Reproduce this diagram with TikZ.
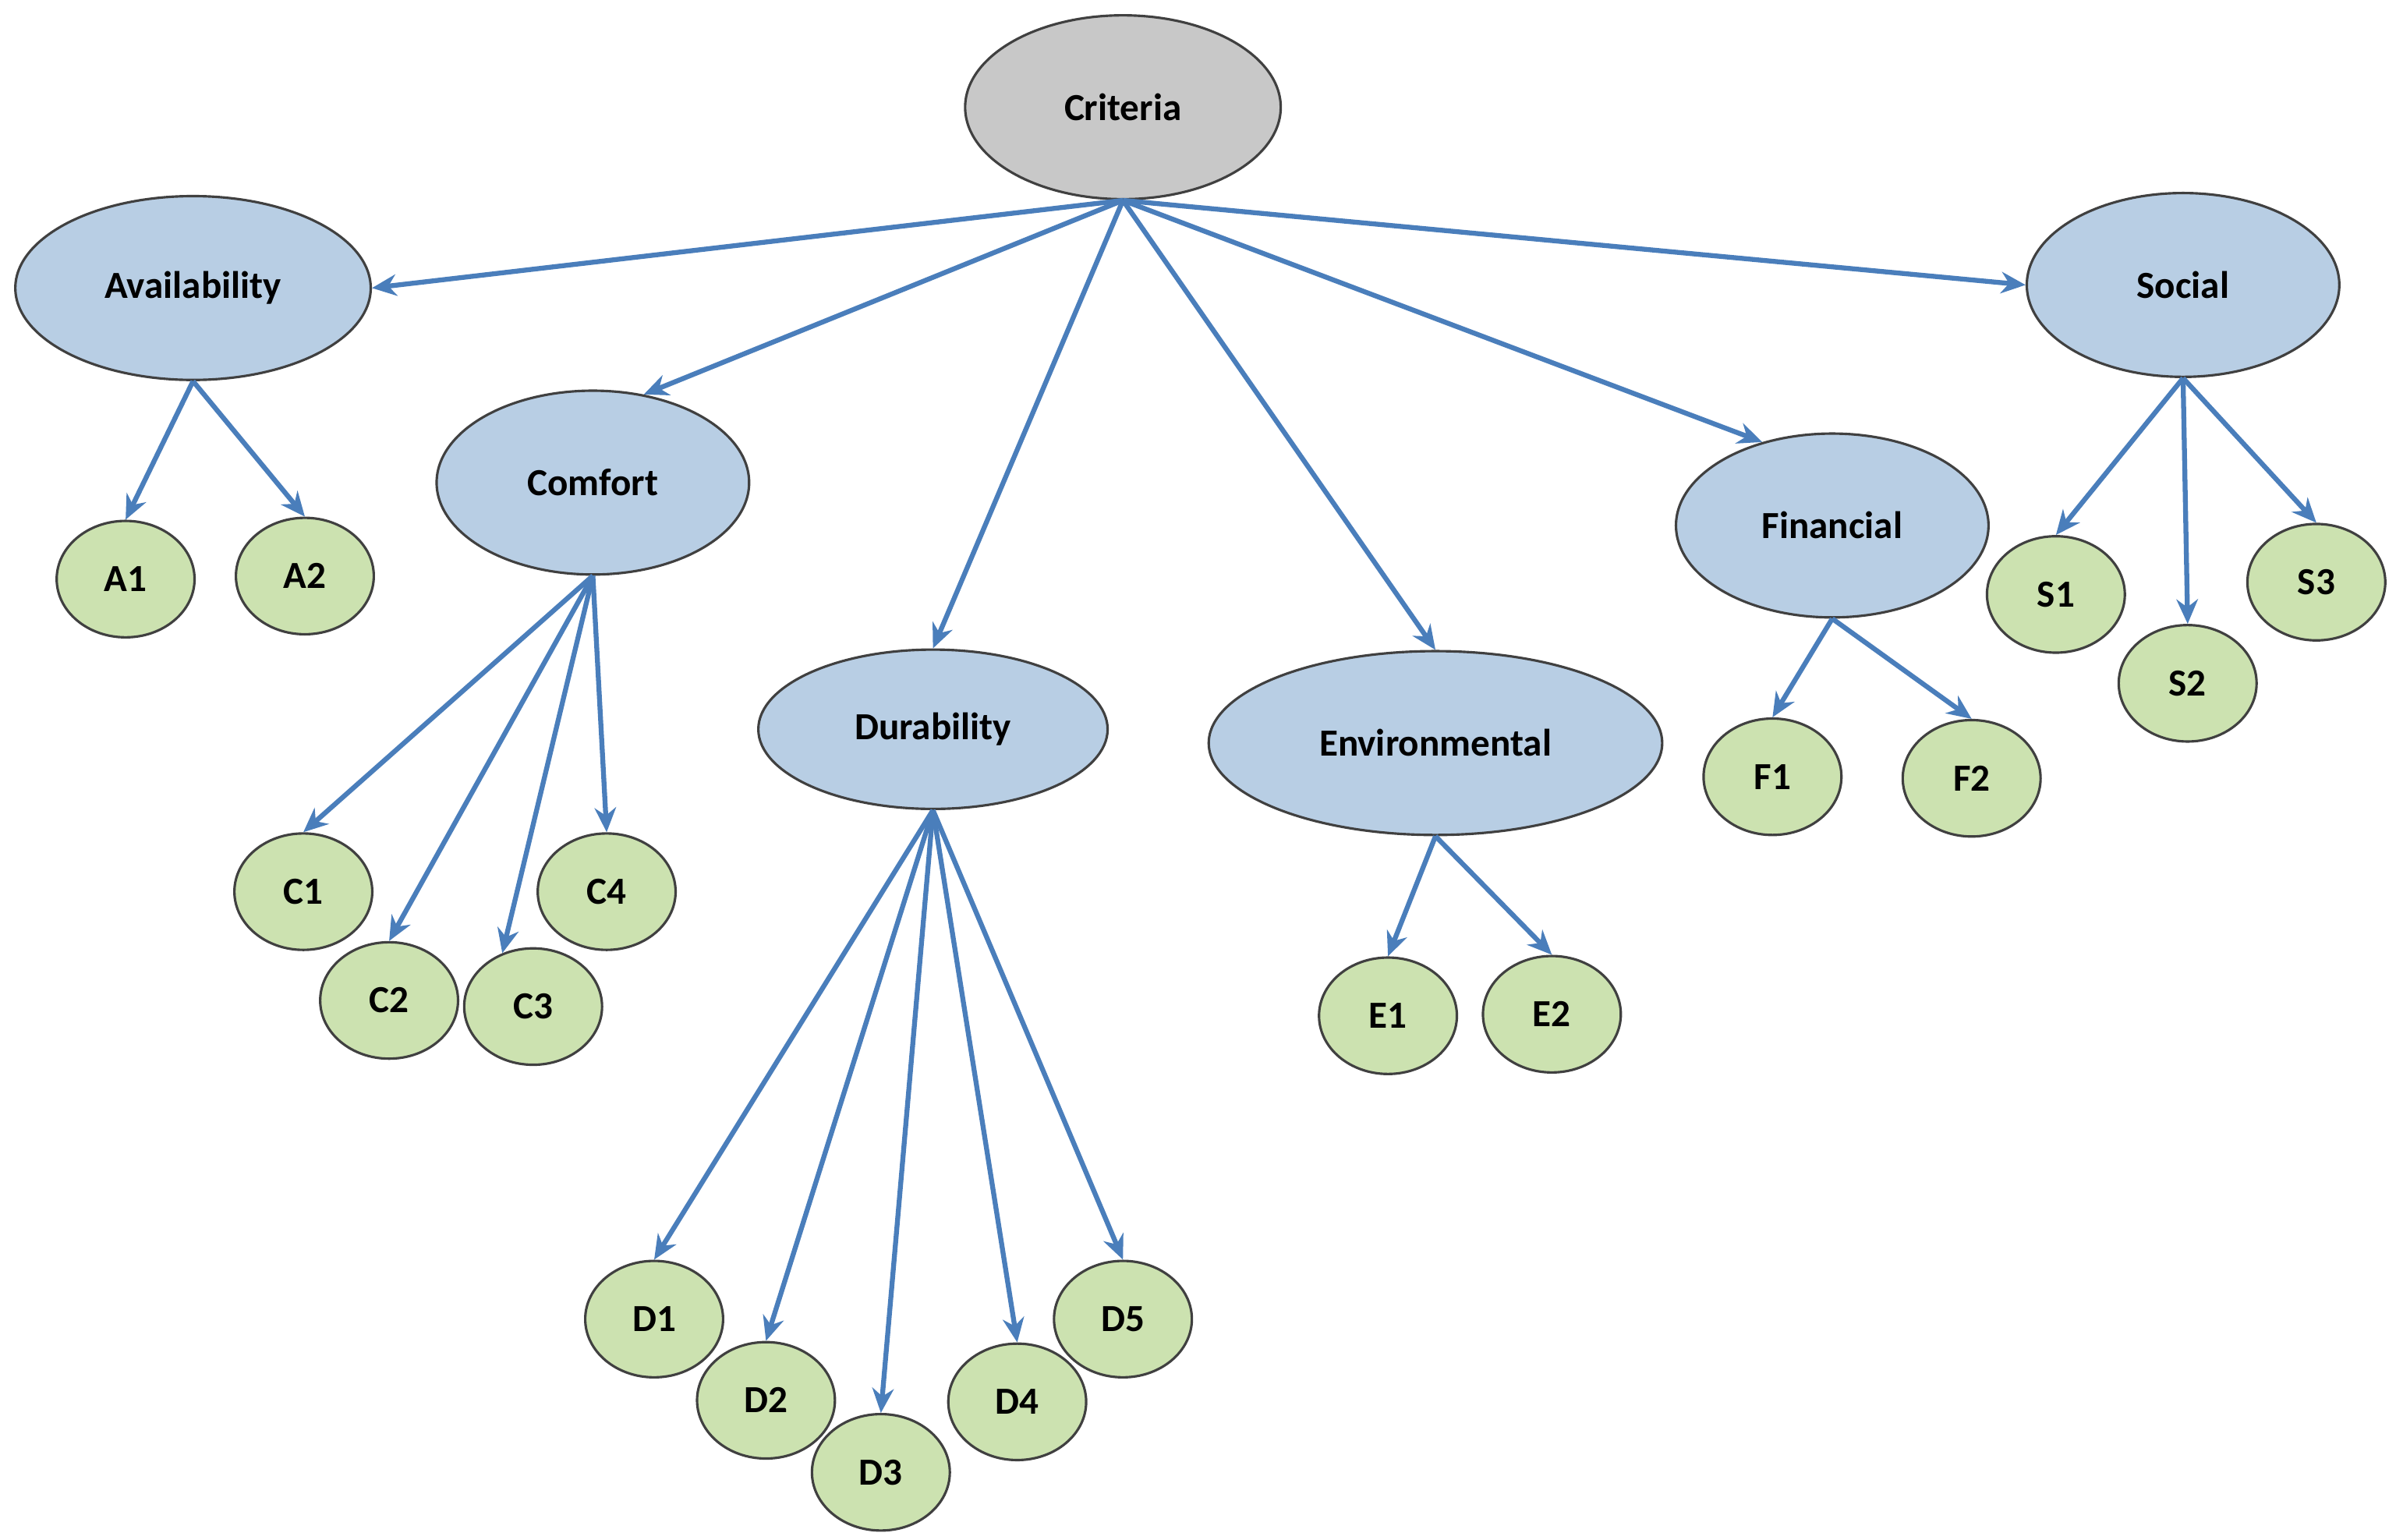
\documentclass[tikz,border=0pt]{standalone}
\usepackage{fontspec}
\setmainfont{Carlito}
\usetikzlibrary{shapes.geometric,arrows.meta}
\definecolor{arr}{RGB}{74,126,187}
\definecolor{blu}{RGB}{184,206,228}
\definecolor{grn}{RGB}{204,226,176}
\definecolor{gry}{RGB}{200,200,200}
\begin{document}
\begin{tikzpicture}[x=0.5pt,y=-0.5pt,
 base/.style={ellipse,draw=black!75,line width=0.8pt,inner sep=0pt,font=\fontsize{12.5}{14}\selectfont\bfseries},
 big/.style={base,fill=blu},
 leaf/.style={base,fill=grn,minimum width=45pt,minimum height=38pt},
 ar/.style={draw=arr,line width=1.6pt,-{Stealth[length=8pt,width=7pt]}}]
\useasboundingbox (0,0) rectangle (1564,1005);
\node[base,fill=gry,minimum width=103pt,minimum height=60pt] (cr) at (733,70) {Criteria};
\node[big,minimum width=116pt,minimum height=60pt] (av) at (126,188) {Availability};
\node[big,minimum width=102pt,minimum height=60pt] (so) at (1425,186) {Social};
\node[big,minimum width=102pt,minimum height=60pt] (co) at (387,315) {Comfort};
\node[big,minimum width=102pt,minimum height=60pt] (fi) at (1196,343) {Financial};
\node[big,minimum width=114pt,minimum height=52pt] (du) at (609,476) {Durability};
\node[big,minimum width=148pt,minimum height=60pt] (en) at (937,485) {Environmental};
\foreach \n/\x/\y in {A1/82/378,A2/199/376,C1/198/582,C4/396/582,C2/254/653,C3/348/657,D1/427/861,D2/500/914,D3/575/961,D4/664/915,D5/733/861,E1/906/663,E2/1013/662,F1/1157/507,F2/1287/508,S1/1342/388,S2/1428/446,S3/1512/380}
  \node[leaf] (\n) at (\x,\y) {\n};
\draw[ar] (cr.south) -- (av.east);
\draw[ar] (cr.south) -- (so.west);
\draw[ar] (cr.south) -- (co.60);
\draw[ar] (cr.south) -- (fi.130);
\draw[ar] (cr.south) -- (du.north);
\draw[ar] (cr.south) -- (en.north);
\foreach \t in {A1,A2} \draw[ar] (av.south) -- (\t.north);
\foreach \t in {C1,C2,C4} \draw[ar] (co.south) -- (\t.north);
\draw[ar] (co.south) -- (C3.120);
\foreach \t in {D1,D2,D3,D4,D5} \draw[ar] (du.south) -- (\t.north);
\foreach \t in {E1,E2} \draw[ar] (en.south) -- (\t.north);
\foreach \t in {F1,F2} \draw[ar] (fi.south) -- (\t.north);
\foreach \t in {S1,S2,S3} \draw[ar] (so.south) -- (\t.north);
\end{tikzpicture}
\end{document}
